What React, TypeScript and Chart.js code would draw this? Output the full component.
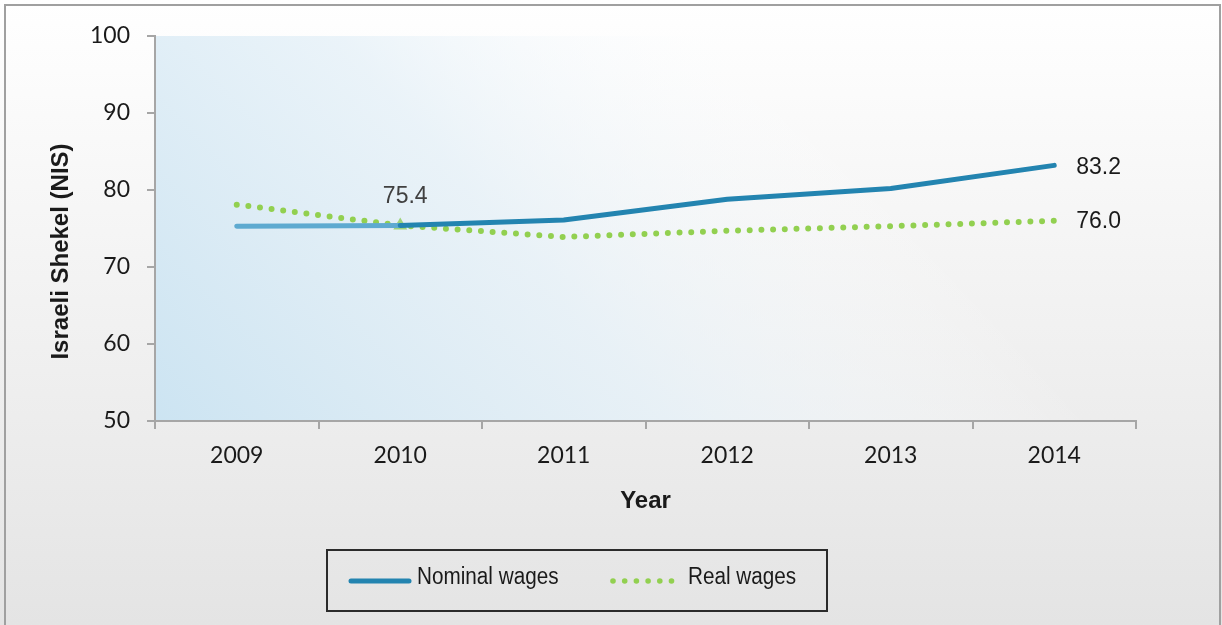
import { useEffect, useRef } from "react";
import { Chart, registerables } from "chart.js";
Chart.register(...registerables);

const years = ["2009", "2010", "2011", "2012", "2013", "2014"];
const nominalWages = [75.3, 75.4, 76.1, 78.8, 80.2, 83.2];
const realWages = [78.1, 75.4, 73.9, 74.7, 75.3, 76.0];
const yTicks = [50, 60, 70, 80, 90, 100];
const seriesNames = ["Nominal wages", "Real wages"];
const yTitle = "Israeli Shekel (NIS)";
const xTitle = "Year";

const BLUE = "#2384b0";
const BLUE_LIGHT = "#5eaad0";
const GREEN = "#92d050";
const AXIS = "#a6a6a6";
const TICK_FONT = "Lato, 'Open Sans', sans-serif";
const ARIAL = "'Liberation Sans', Arial, sans-serif";

const bgPlugin = {
  id: "bgPlugin",
  beforeDraw(chart: any) {
    const { ctx, width, height, chartArea } = chart;
    ctx.save();
    const g = ctx.createLinearGradient(0, 0, 0, height);
    g.addColorStop(0, "#ffffff");
    g.addColorStop(1, "#e4e4e4");
    ctx.fillStyle = g;
    ctx.fillRect(0, 0, width, height);
    const { left, top, right, bottom } = chartArea;
    const pg = ctx.createLinearGradient(left, bottom, left + (right - left) * 0.55, top - 80);
    pg.addColorStop(0, "rgba(204,228,242,1)");
    pg.addColorStop(0.55, "rgba(230,241,248,0.8)");
    pg.addColorStop(1, "rgba(255,255,255,0)");
    ctx.fillStyle = pg;
    ctx.fillRect(left, top, right - left, bottom - top);
    ctx.strokeStyle = "#a0a0a0";
    ctx.lineWidth = 2;
    ctx.strokeRect(5, 5, width - 7, height + 10);
    ctx.restore();
  },
};

const labelPlugin = {
  id: "labelPlugin",
  afterDatasetsDraw(chart: any) {
    const { ctx, chartArea } = chart;
    const xs = chart.scales.x;
    const ys = chart.scales.y;
    ctx.save();
    ctx.font = `23px ${ARIAL}`;
    ctx.textBaseline = "middle";
    ctx.fillStyle = "#404040";
    ctx.textAlign = "center";
    ctx.fillText(realWages[1].toFixed(1), xs.getPixelForValue(1) + 5, ys.getPixelForValue(realWages[1]) - 29);
    ctx.fillStyle = "#1a1a1a";
    ctx.textAlign = "left";
    const last = years.length - 1;
    ctx.fillText(nominalWages[last].toFixed(1), xs.getPixelForValue(last) + 22, ys.getPixelForValue(nominalWages[last]) + 2);
    ctx.fillText(realWages[last].toFixed(1), xs.getPixelForValue(last) + 22, ys.getPixelForValue(realWages[last]) + 1);
    ctx.translate(61, (chartArea.top + chartArea.bottom) / 2 + 23);
    ctx.rotate(-Math.PI / 2);
    ctx.textAlign = "center";
    ctx.font = `bold 24px ${ARIAL}`;
    ctx.fillText(yTitle, 0, 0);
    ctx.restore();
  },
};

const legendPlugin = {
  id: "legendPlugin",
  afterDraw(chart: any) {
    const { ctx } = chart;
    ctx.save();
    ctx.strokeStyle = "#2b2b2b";
    ctx.lineWidth = 2;
    ctx.strokeRect(327, 550, 500, 61);
    ctx.strokeStyle = BLUE;
    ctx.lineWidth = 5;
    ctx.lineCap = "round";
    ctx.beginPath();
    ctx.moveTo(351, 581);
    ctx.lineTo(409, 581);
    ctx.stroke();
    ctx.fillStyle = GREEN;
    for (let i = 0; i < 6; i++) {
      ctx.beginPath();
      ctx.arc(613 + i * 11.7, 581, 2.8, 0, Math.PI * 2);
      ctx.fill();
    }
    ctx.fillStyle = "#1a1a1a";
    ctx.font = `23px ${ARIAL}`;
    ctx.textBaseline = "middle";
    ctx.textAlign = "left";
    ctx.save();
    ctx.translate(417, 578);
    ctx.scale(0.9, 1);
    ctx.fillText(seriesNames[0], 0, 0);
    ctx.restore();
    ctx.save();
    ctx.translate(688, 578);
    ctx.scale(0.9, 1);
    ctx.fillText(seriesNames[1], 0, 0);
    ctx.restore();
    ctx.restore();
  },
};

export default function App() {
  const ref = useRef<HTMLCanvasElement>(null);
  useEffect(() => {
    if (!ref.current) return;
    const chart = new Chart(ref.current, {
      type: "line",
      data: {
        labels: years,
        datasets: [
          {
            label: seriesNames[0],
            data: nominalWages,
            borderColor: BLUE,
            borderWidth: 5,
            borderCapStyle: "round",
            borderJoinStyle: "round",
            pointRadius: 0,
            tension: 0,
            segment: {
              borderColor: (c: any) => (c.p0DataIndex === 0 ? BLUE_LIGHT : BLUE),
            },
          },
          {
            label: seriesNames[1],
            data: realWages,
            borderColor: GREEN,
            borderWidth: 6,
            borderCapStyle: "round",
            borderDash: [0, 11.7],
            pointStyle: "triangle",
            pointRadius: (c: any) => (c.dataIndex === 1 ? 8 : 0),
            pointBackgroundColor: "#9ed37a",
            pointBorderColor: "#9ed37a",
            pointBorderWidth: 0,
            tension: 0,
          },
        ],
      },
      options: {
        animation: false,
        responsive: false,
        layout: { padding: { left: 0, top: 36, right: 86, bottom: 104 } },
        plugins: { legend: { display: false }, tooltip: { enabled: false } },
        scales: {
          x: {
            type: "category",
            offset: true,
            grid: { drawOnChartArea: false, drawTicks: true, tickLength: 8, color: AXIS, lineWidth: 2, offset: true },
            border: { color: AXIS, width: 2 },
            ticks: { color: "#1a1a1a", font: { family: TICK_FONT, size: 23 }, padding: 13 },
            title: {
              display: true,
              text: xTitle,
              color: "#1a1a1a",
              font: { family: ARIAL, size: 24, weight: "bold" },
              padding: { top: 0, bottom: 5 },
            },
            afterFit(s: any) {
              s.height = 100;
            },
          },
          y: {
            min: 50,
            max: 100,
            afterBuildTicks(s: any) {
              s.ticks = yTicks.map((v) => ({ value: v }));
            },
            grid: { drawOnChartArea: false, drawTicks: true, tickLength: 8, color: AXIS, lineWidth: 2 },
            border: { color: AXIS, width: 2 },
            ticks: { color: "#1a1a1a", font: { family: TICK_FONT, size: 23 }, padding: 17 },
            title: { display: false },
            afterFit(s: any) {
              s.width = 155;
            },
          },
        },
      },
      plugins: [bgPlugin, labelPlugin, legendPlugin],
    } as any);
    return () => chart.destroy();
  }, []);
  return (
    <div style={{ position: "fixed", left: 0, top: 0, width: 1222, height: 625 }}>
      <canvas ref={ref} width={1222} height={625} style={{ width: 1222, height: 625, display: "block" }} />
    </div>
  );
}
